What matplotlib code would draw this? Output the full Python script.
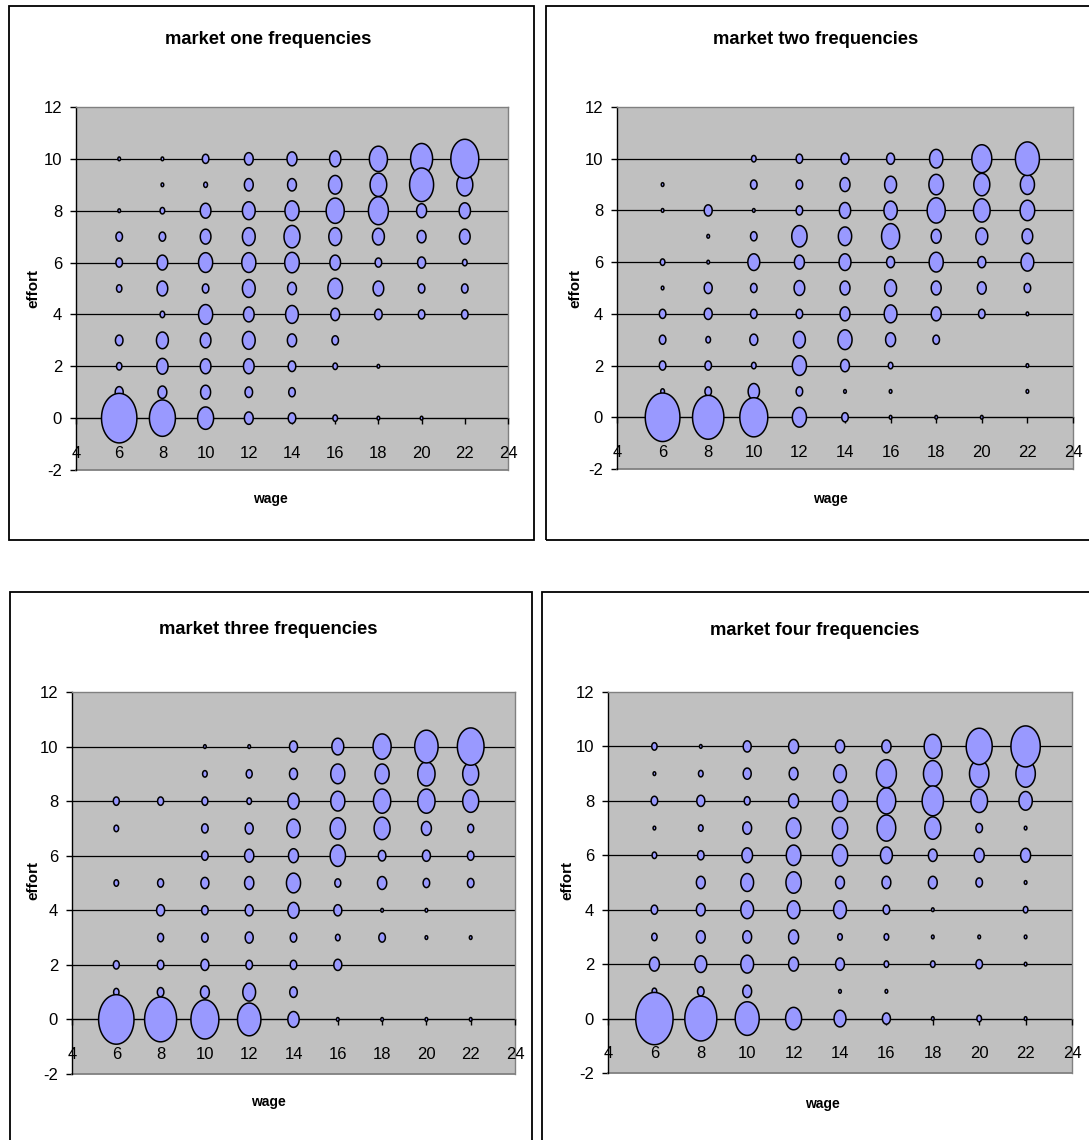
import numpy as np
import matplotlib
matplotlib.use("Agg")
import matplotlib.pyplot as plt
from matplotlib.path import Path
from matplotlib.patches import Rectangle

plt.rcParams['font.family'] = ['Liberation Sans', 'DejaVu Sans']
plt.rcParams['axes.unicode_minus'] = False

# ---------------- data ----------------
wages = [6, 8, 10, 12, 14, 16, 18, 20, 22]
efforts = [10, 9, 8, 7, 6, 5, 4, 3, 2, 1, 0]   # rows of the tables below
titles = ["market one frequencies", "market two frequencies",
          "market three frequencies", "market four frequencies"]
x_ticks = [4, 6, 8, 10, 12, 14, 16, 18, 20, 22, 24]
y_ticks = [-2, 0, 2, 4, 6, 8, 10, 12]

# frequency counts, rows = effort 10..0, columns = wage 6..22
market_one = [
    [1, 1, 6, 11, 14, 18, 46, 68, 110],
    [0, 1, 2, 11, 11, 25, 39, 81, 36],
    [1, 3, 16, 23, 28, 46, 56, 14, 18],
    [6, 6, 16, 23, 36, 23, 20, 11, 16],
    [6, 16, 28, 28, 30, 16, 6, 9, 3],
    [4, 16, 6, 23, 11, 30, 16, 6, 6],
    [0, 3, 28, 16, 23, 11, 8, 6, 6],
    [8, 20, 16, 23, 12, 6, 0, 0, 0],
    [4, 18, 16, 16, 8, 3, 1, 0, 0],
    [9, 11, 14, 8, 6, 0, 0, 0, 0],
    [176, 95, 36, 11, 8, 3, 1, 1, 0],
]
market_two = [
    [0, 0, 3, 6, 9, 9, 25, 56, 81],
    [1, 0, 6, 6, 14, 20, 30, 36, 28],
    [1, 9, 1, 6, 18, 25, 46, 39, 30],
    [0, 1, 6, 33, 25, 46, 14, 20, 16],
    [3, 1, 20, 14, 20, 9, 28, 9, 23],
    [1, 9, 6, 16, 14, 20, 14, 11, 6],
    [6, 9, 6, 6, 14, 23, 14, 6, 1],
    [6, 3, 9, 20, 28, 14, 6, 0, 0],
    [6, 6, 3, 28, 11, 3, 0, 0, 1],
    [2, 6, 18, 6, 1, 1, 0, 0, 1],
    [169, 138, 110, 28, 6, 1, 1, 1, 0],
]
market_three = [
    [0, 0, 1, 1, 9, 20, 46, 77, 100],
    [0, 0, 3, 5, 9, 28, 28, 42, 36],
    [5, 5, 5, 3, 18, 28, 42, 42, 36],
    [3, 0, 6, 9, 25, 33, 36, 14, 5],
    [0, 0, 6, 12, 14, 33, 8, 9, 6],
    [3, 5, 9, 12, 28, 5, 12, 6, 6],
    [0, 9, 6, 9, 18, 9, 1, 1, 0],
    [0, 5, 6, 9, 6, 3, 6, 1, 1],
    [5, 6, 9, 6, 6, 9, 0, 0, 0],
    [4, 6, 11, 23, 8, 0, 0, 0, 0],
    [176, 144, 110, 77, 18, 1, 1, 1, 1],
]
market_four = [
    [4, 1, 9, 14, 12, 12, 42, 95, 121],
    [1, 3, 9, 11, 23, 56, 49, 53, 53],
    [6, 9, 5, 14, 33, 49, 64, 39, 25],
    [1, 3, 11, 30, 33, 49, 36, 6, 1],
    [3, 6, 16, 30, 33, 20, 11, 14, 14],
    [0, 11, 23, 33, 11, 11, 11, 6, 1],
    [6, 11, 23, 23, 23, 6, 1, 0, 3],
    [4, 11, 11, 14, 3, 3, 1, 1, 1],
    [14, 20, 23, 14, 11, 3, 3, 6, 1],
    [3, 6, 11, 0, 1, 1, 0, 0, 0],
    [196, 144, 81, 36, 20, 9, 1, 3, 1],
]
markets = [market_one, market_two, market_three, market_four]

# ---------------- layout (pixels) ----------------
W, H = 1089, 1140
axes_px = [  # left, right, top, bottom
    (76, 508, 107, 470),
    (617, 1073, 107, 469),
    (72, 515, 692, 1074),
    (608, 1072, 692, 1073),
]
frames_px = [  # left, top, right, bottom
    (9, 6, 534, 540),
    (546, 6, 1100, 540),
    (10, 592, 532, 1160),
    (542, 592, 1100, 1160),
]
title_pos = [(268, 44), (816, 44), (268, 634), (815, 635)]
xlabel_pos = [(270, 499), (830, 499), (268, 1102), (822, 1104)]
ylabel_pos = [(33, 289), (575, 289), (33, 880), (567, 880)]

BUBBLE = '#9999FF'
PLOT_BG = '#C0C0C0'

theta = np.linspace(0, 2 * np.pi, 91)
ellipse = Path(np.column_stack([np.cos(theta) / 1.4, np.sin(theta)]), closed=True)

fig = plt.figure(figsize=(W / 100, H / 100), dpi=100)


def fx(x):
    return x / W


def fy(y):
    return 1 - y / H


for k in range(4):
    l, r, t, b = axes_px[k]
    ax = fig.add_axes([fx(l), fy(b), (r - l) / W, (b - t) / H])
    ax.set_facecolor(PLOT_BG)
    ax.set_xlim(4, 24)
    ax.set_ylim(-2, 12)

    data = np.array(markets[k], dtype=float)
    xs, ys, cs = [], [], []
    for i, e in enumerate(efforts):
        for j, w in enumerate(wages):
            if data[i, j] > 0:
                xs.append(w)
                ys.append(e)
                cs.append(data[i, j])
    order = np.argsort(cs, kind='stable')
    xs = np.array(xs)[order]
    ys = np.array(ys)[order]
    cs = np.array(cs)[order]

    for yv in [2, 4, 6, 8, 10]:
        ax.axhline(yv, color='black', lw=0.9, zorder=1)

    ax.scatter(xs, ys, s=7.22 * cs, marker=ellipse, facecolor=BUBBLE,
               edgecolor='black', linewidths=1.1, zorder=3, clip_on=False)

    for side in ['top', 'right']:
        ax.spines[side].set_color('#808080')
        ax.spines[side].set_linewidth(1.0)
    ax.spines['left'].set_color('black')
    ax.spines['left'].set_linewidth(1.0)
    ax.spines['bottom'].set_position(('data', 0))
    ax.spines['bottom'].set_color('black')
    ax.spines['bottom'].set_linewidth(1.0)
    ax.spines['bottom'].set_zorder(2)
    # lower border of plot area
    ax.plot([0, 1], [0, 0], transform=ax.transAxes, color='#808080', lw=1.3,
            clip_on=False, zorder=2)

    ax.set_xticks(x_ticks)
    ax.set_yticks(y_ticks)
    ax.tick_params(axis='x', direction='out', length=4, width=1, pad=16,
                   labelsize=12, colors='black')
    ax.tick_params(axis='y', direction='out', length=4, width=1, pad=6,
                   labelsize=12, colors='black')
    ax.xaxis.set_zorder(2.6)

    fig.text(fx(title_pos[k][0]), fy(title_pos[k][1]), titles[k],
             ha='center', va='baseline', fontsize=13.2, fontweight='bold')
    fig.text(fx(xlabel_pos[k][0]), fy(xlabel_pos[k][1]), 'wage',
             ha='center', va='center', fontsize=10, fontweight='bold')
    fig.text(fx(ylabel_pos[k][0]), fy(ylabel_pos[k][1]), 'effort',
             ha='center', va='center', fontsize=11, fontweight='bold',
             rotation=90)

    fl, ft, fr, fb = frames_px[k]
    fig.add_artist(Rectangle((fx(fl), fy(fb)), (fr - fl) / W, (fb - ft) / H,
                             transform=fig.transFigure, fill=False,
                             edgecolor='black', lw=1.3))

fig.savefig('out.png', dpi=100)
